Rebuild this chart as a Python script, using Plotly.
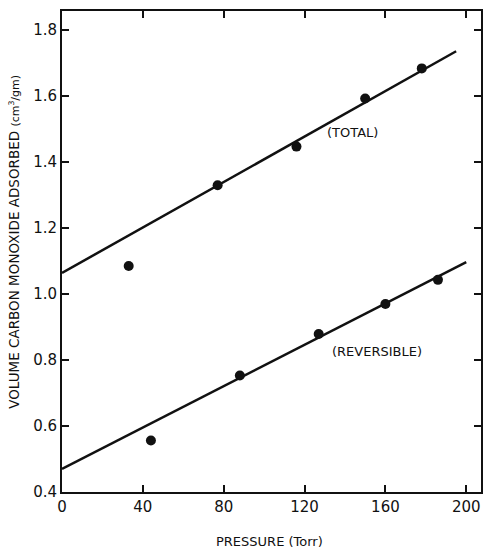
import plotly.graph_objects as go

# Measured CO uptake versus pressure
total_p = [33, 77, 116, 150, 178]
total_v = [1.085, 1.33, 1.447, 1.593, 1.684]
rev_p = [44, 88, 127, 160, 186]
rev_v = [0.556, 0.753, 0.879, 0.970, 1.043]

# Straight-line fits drawn through each set
total_fit_p = [0, 195]
total_fit_v = [1.064, 1.736]
rev_fit_p = [0, 200]
rev_fit_v = [0.470, 1.097]

x_ticks = [0, 40, 80, 120, 160, 200]
y_ticks = [0.4, 0.6, 0.8, 1.0, 1.2, 1.4, 1.6, 1.8]

FONT = "DejaVu Sans"
INK = "#111111"

fig = go.Figure()
fig.add_trace(go.Scatter(x=total_fit_p, y=total_fit_v, mode="lines",
                         line=dict(color=INK, width=2.5), showlegend=False))
fig.add_trace(go.Scatter(x=rev_fit_p, y=rev_fit_v, mode="lines",
                         line=dict(color=INK, width=2.5), showlegend=False))
fig.add_trace(go.Scatter(x=total_p, y=total_v, mode="markers",
                         marker=dict(color=INK, size=10), showlegend=False))
fig.add_trace(go.Scatter(x=rev_p, y=rev_v, mode="markers",
                         marker=dict(color=INK, size=10), showlegend=False))

fig.add_annotation(x=143.5, y=1.49, text="(TOTAL)", showarrow=False,
                   font=dict(family=FONT, size=13, color=INK))
fig.add_annotation(x=156, y=0.827, text="(REVERSIBLE)", showarrow=False,
                   font=dict(family=FONT, size=13, color=INK))

# Axis titles
fig.add_annotation(xref="paper", yref="paper", x=(13 - 61.5) / 421.5,
                   y=(492 - 242) / 481, xanchor="center", yanchor="middle",
                   textangle=-90, showarrow=False,
                   text="VOLUME CARBON MONOXIDE ADSORBED "
                        "<span style='font-size:11px'>(cm<sup>3</sup>/gm)</span>",
                   font=dict(family=FONT, size=13.5, color=INK))
fig.add_annotation(xref="paper", yref="paper", x=(270 - 61.5) / 421.5,
                   y=(492 - 541) / 481, xanchor="center", yanchor="middle",
                   showarrow=False, text="PRESSURE (Torr)",
                   font=dict(family=FONT, size=13, color=INK))

axis_common = dict(showgrid=False, zeroline=False, showline=True,
                   linecolor=INK, linewidth=2, mirror="ticks",
                   ticks="inside", ticklen=7, tickwidth=1.5, tickcolor=INK,
                   tickfont=dict(family=FONT, size=15, color=INK))

fig.update_xaxes(range=[0, 207.3], tickvals=x_ticks,
                 ticktext=[str(v) for v in x_ticks], **axis_common)
fig.update_yaxes(range=[0.4, 1.858], tickvals=y_ticks,
                 ticktext=[f"{v:.1f}" for v in y_ticks], **axis_common)

fig.update_layout(width=483, height=551,
                  margin=dict(l=61.5, r=0, t=11, b=59),
                  paper_bgcolor="white", plot_bgcolor="white")

fig.write_html("out.html")
